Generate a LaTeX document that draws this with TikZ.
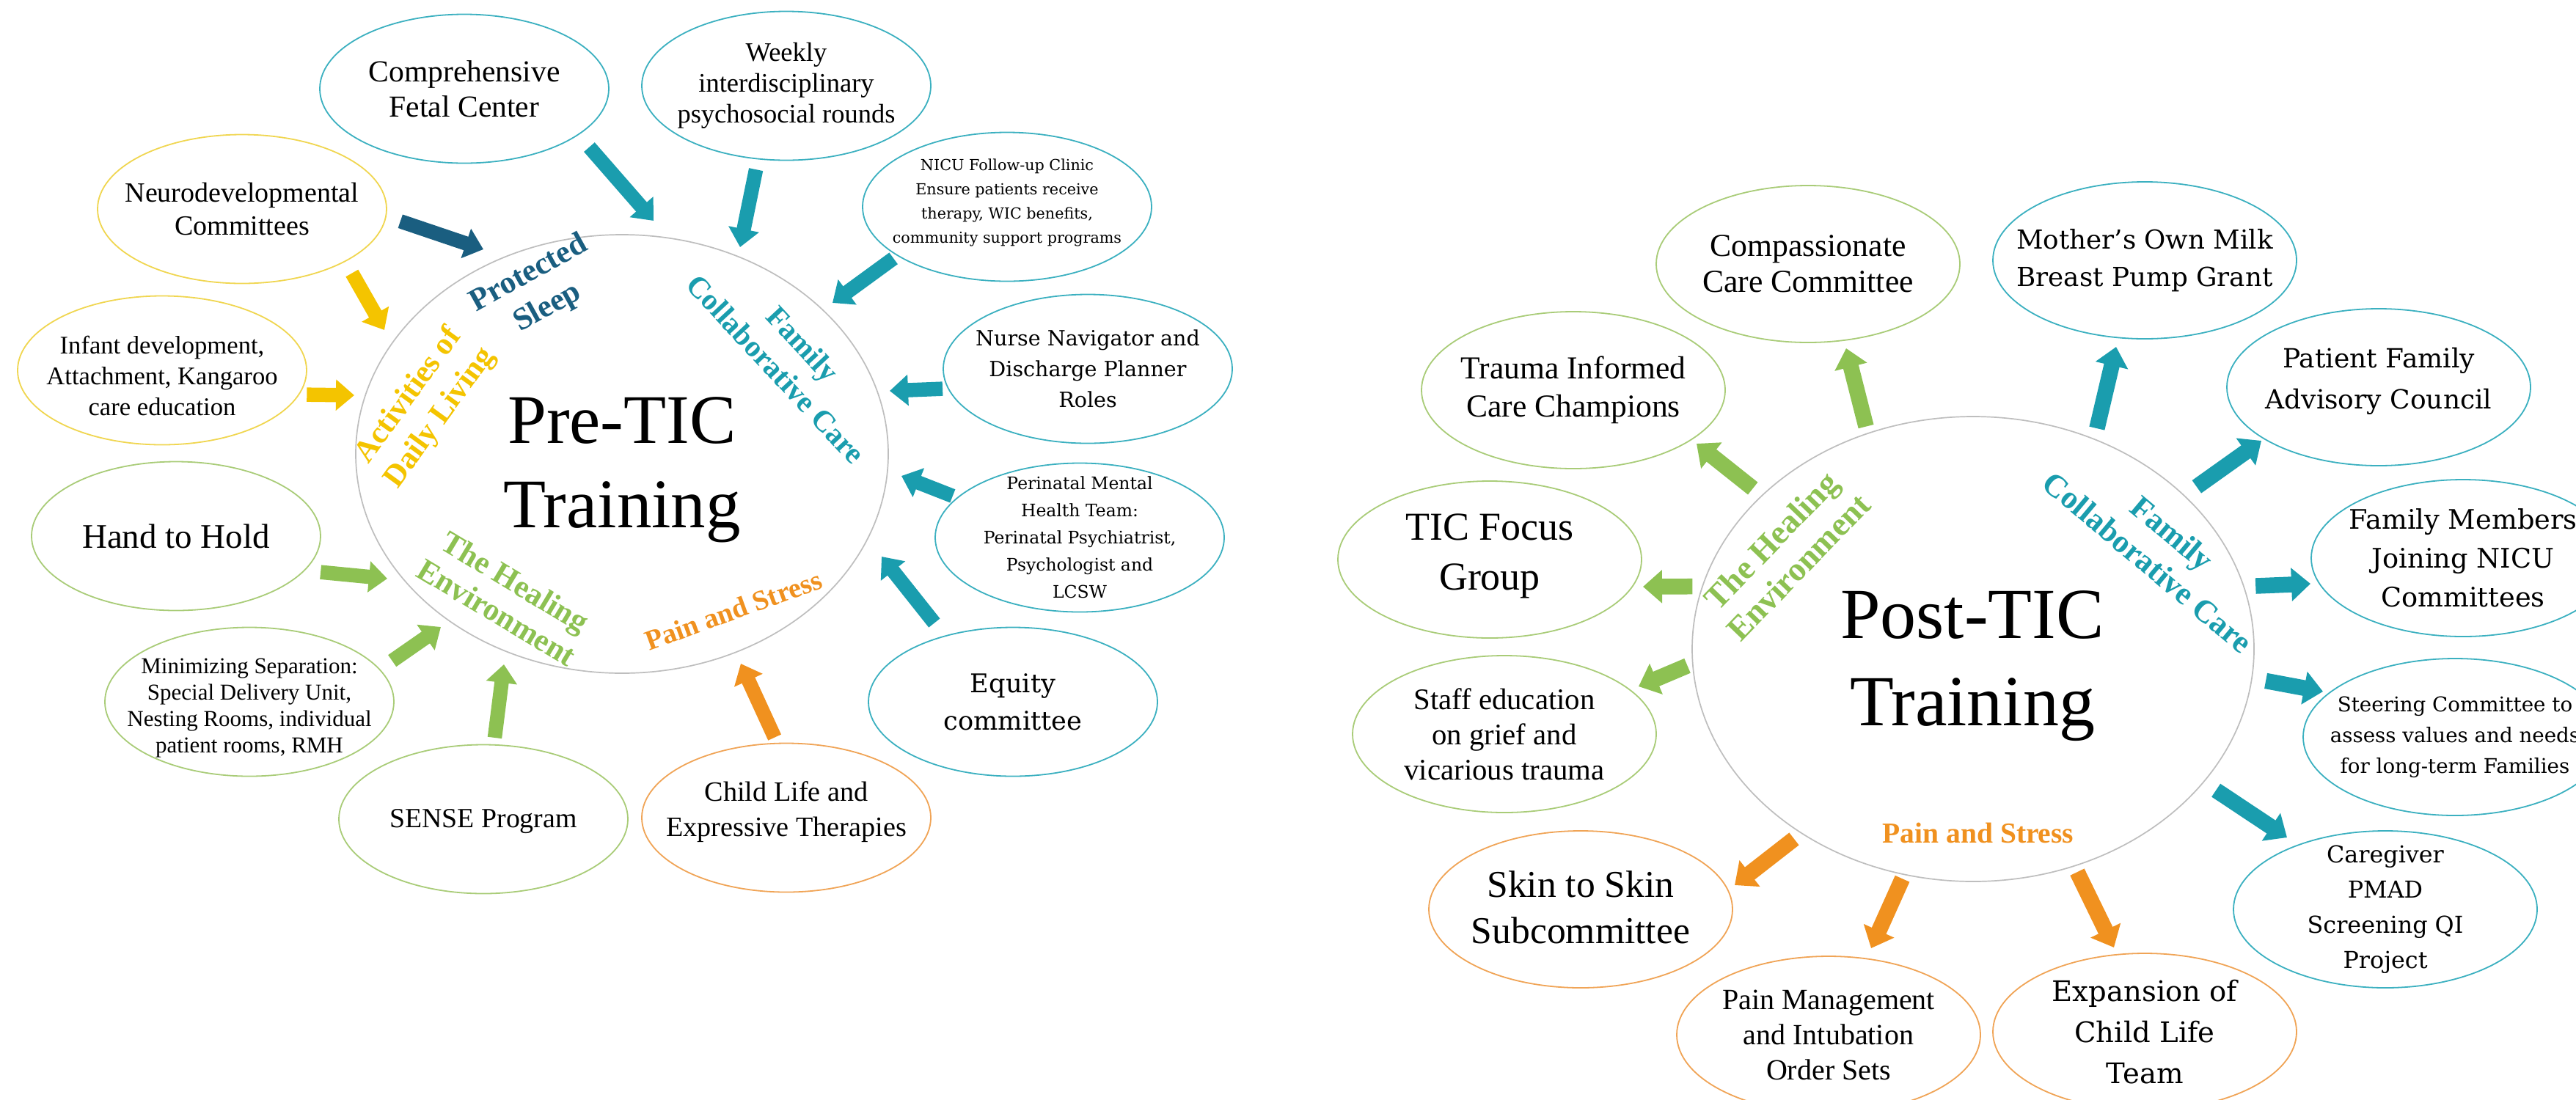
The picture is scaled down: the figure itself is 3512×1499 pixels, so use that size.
\documentclass[tikz,border=0pt]{standalone}
\usepackage{fontspec}
\setmainfont{Liberation Serif}
\newfontfamily\cent{DejaVu Serif}
\usetikzlibrary{shapes.geometric,arrows.meta}
\definecolor{cTeal}{HTML}{1A9DAE}
\definecolor{cTealL}{HTML}{3BB0C0}
\definecolor{cNavy}{HTML}{1A5E80}
\definecolor{cYel}{HTML}{F4C400}
\definecolor{cYelL}{HTML}{F0D650}
\definecolor{cGrn}{HTML}{8DC152}
\definecolor{cGrnL}{HTML}{A9CC78}
\definecolor{cOrg}{HTML}{F0911F}
\definecolor{cOrgL}{HTML}{F0A456}
\definecolor{cGray}{HTML}{BEBEBE}
\newcommand\fz[2]{\fontsize{#1mm}{#2mm}\selectfont}
\tikzset{
  ell/.style={ellipse, draw=#1, line width=0.18mm, inner sep=0pt, minimum width=39.4mm, minimum height=20.3mm},
  ellR/.style={ell=#1, minimum width=41.4mm, minimum height=21.4mm},
  circ/.style={ellipse, draw=cGray, line width=0.17mm, inner sep=0pt},
  txt/.style={align=center, inner sep=0pt, text=black},
  cat/.style={align=center, inner sep=0pt, text=#1},
  blk/.style={draw=#1, line width=1.95mm, -{Triangle[length=2.5mm,width=4.1mm]}},
  blkR/.style={draw=#1, line width=2.15mm, -{Triangle[length=2.6mm,width=4.4mm]}},
}
\begin{document}
\begin{tikzpicture}[x=0.1mm,y=-0.1mm]
\clip (0,0) rectangle (3512,1499);
\fill[white] (0,0) rectangle (3512,1499);

% ---------------- Left diagram ----------------
\node[circ, minimum width=72.6mm, minimum height=59.8mm] (preC) at (848,619) {};
\node[txt, font=\fz{9.5}{11.5}] (preT) at (848,641) {Pre-TIC\\Training};

\node[ell=cTealL] (cfc) at (633,121) {};
\node[txt, font=\fz{4.16}{4.8}] (cfcT) at (cfc) {Comprehensive\\Fetal Center};
\node[ell=cTealL] (wk) at (1072,117) {};
\node[txt, font=\fz{3.65}{4.2}] (wkT) at (wk) {Weekly\\interdisciplinary\\psychosocial rounds};
\node[ell=cTealL] (nicu) at (1373,282) {};
\node[txt, font=\cent\fz{2.07}{3.3}] (nicuT) at (1373,276) {NICU Follow-up Clinic\\Ensure patients receive\\therapy, WIC benefits,\\community support programs};
\node[ell=cTealL] (nurse) at (1483,503) {};
\node[txt, font=\cent\fz{2.86}{4.2}] (nurseT) at (nurse) {Nurse Navigator and\\Discharge Planner\\Roles};
\node[ell=cTealL] (peri) at (1472,733) {};
\node[txt, font=\cent\fz{2.35}{3.7}] (periT) at (peri) {Perinatal Mental\\Health Team:\\Perinatal Psychiatrist,\\Psychologist and\\LCSW};
\node[ell=cTealL] (eq) at (1381,957) {};
\node[txt, font=\cent\fz{3.52}{5.1}] (eqT) at (eq) {Equity\\committee};
\node[ell=cOrgL] (cl) at (1072,1115) {};
\node[txt, font=\fz{3.82}{4.8}] (clT) at (1072,1107) {Child Life and\\Expressive Therapies};
\node[ell=cGrnL] (sense) at (659,1117) {};
\node[txt, font=\fz{3.78}{4.5}] (senseT) at (659,1120) {SENSE Program};
\node[ell=cGrnL] (mini) at (340,957) {};
\node[txt, font=\fz{3.1}{3.6}] (miniT) at (340,966) {Minimizing Separation:\\Special Delivery Unit,\\Nesting Rooms, individual\\patient rooms, RMH};
\node[ell=cGrnL] (hand) at (240,731) {};
\node[txt, font=\fz{4.7}{5.5}] (handT) at (hand) {Hand to Hold};
\node[ell=cYelL] (inf) at (221,505) {};
\node[txt, font=\fz{3.46}{4.2}] (infT) at (221,512) {Infant development,\\Attachment, Kangaroo\\care education};
\node[ell=cYelL] (neuro) at (330,285) {};
\node[txt, font=\fz{3.8}{4.5}] (neuroT) at (neuro) {Neurodevelopmental\\Committees};

% category labels (left)
\node[cat=cNavy, font=\bfseries\fz{4.3}{5.3}, rotate=29] (ps) at (734,397) {Protected\\Sleep};
\node[cat=cTeal, font=\bfseries\fz{4.1}{5.0}, rotate=-47] (fcl) at (1076,486) {Family\\Collaborative Care};
\node[cat=cYel, font=\bfseries\fz{4.25}{5.2}, rotate=54] (adl) at (579,555) {Activities of\\Daily Living};
\node[cat=cGrn, font=\bfseries\fz{4.3}{4.9}, rotate=-31] (hel) at (690,814) {The Healing\\Environment};
\node[cat=cOrg, font=\bfseries\fz{3.84}{4.6}, rotate=20] (psl) at (1000,832) {Pain and Stress};

% arrows (left)
\coordinate (ha) at (891,301);
\coordinate (hb) at (1009,337);
\coordinate (hc) at (1135,413);
\coordinate (hd) at (1213,533);
\coordinate (he) at (1229,649);
\coordinate (hf) at (1202,759);
\coordinate (hg) at (1010,905);
\coordinate (hh) at (687,906);
\coordinate (hi) at (601,855);
\coordinate (hj) at (528,789);
\coordinate (hk) at (483,539);
\coordinate (hl) at (524,450);
\coordinate (hm) at (659,340);
\draw[blk=cTeal, shorten <=2.2mm] (cfc.338.2) -- (ha);
\draw[blk=cTeal, shorten <=1.4mm] (wk.249.3) -- (hb);
\draw[blk=cTeal, shorten <=0.6mm] (nicu.204.7) -- (hc);
\draw[blk=cTeal, shorten <=0.7mm] (nurse.188.7) -- (hd);
\draw[blk=cTeal, shorten <=0.6mm] (peri.162) -- (he);
\draw[blk=cTeal, shorten <=2.2mm] (eq.136.3) -- (hf);
\draw[blk=cOrg, shorten <=0.8mm] (cl.97.2) -- (hg);
\draw[blk=cGrn, shorten <=0.9mm] (sense.82.8) -- (hh);
\draw[blk=cGrn, shorten <=2.0mm] (mini.14.7) -- (hi);
\draw[blk=cGrn, shorten <=2.15mm] (hand.345.5) -- (hj);
\draw[blk=cYel, shorten <=1.0mm] (inf.350.3) -- (hk);
\draw[blk=cYel, shorten <=1.8mm] (neuro.333.9) -- (hl);
\draw[blk=cNavy, shorten <=2.0mm] (neuro.357.6) -- (hm);

% ---------------- Right diagram ----------------
\node[circ, minimum width=76.6mm, minimum height=63.4mm] (postC) at (2690,885) {};
\node[txt, font=\fz{9.8}{11.9}] (postT) at (2689,908) {Post-TIC\\Training};

\node[ellR=cGrnL] (comp) at (2465,360) {};
\node[txt, font=\fz{4.37}{4.9}] (compT) at (comp) {Compassionate\\Care Committee};
\node[ellR=cGrnL] (trau) at (2145,532) {};
\node[txt, font=\fz{4.36}{5.2}] (trauT) at (trau) {Trauma Informed\\Care Champions};
\node[ellR=cGrnL] (focus) at (2031,763) {};
\node[txt, font=\fz{5.4}{6.8}] (focusT) at (2031,758) {TIC Focus\\Group};
\node[ellR=cGrnL] (staff) at (2051,1001) {};
\node[txt, font=\fz{4.08}{4.8}] (staffT) at (staff) {Staff education\\on grief and\\vicarious trauma};
\node[ellR=cOrgL] (skin) at (2155,1240) {};
\node[txt, font=\fz{5.16}{6.3}] (skinT) at (2155,1237) {Skin to Skin\\Subcommittee};
\node[ellR=cOrgL] (pmg) at (2493,1411) {};
\node[txt, font=\fz{4.0}{4.8}] (pmgT) at (pmg) {Pain Management\\and Intubation\\Order Sets};
\node[ellR=cOrgL] (exp) at (2924,1407) {};
\node[txt, font=\cent\fz{3.86}{5.6}] (expT) at (exp) {Expansion of\\Child Life\\Team};
\node[ellR=cTealL] (milk) at (2924,355) {};
\node[txt, font=\cent\fz{3.57}{5.1}] (milkT) at (milk) {Mother’s Own Milk\\Breast Pump Grant};
\node[ellR=cTealL] (pfac) at (3243,528) {};
\node[txt, font=\cent\fz{3.6}{5.6}] (pfacT) at (3243,520) {Patient Family\\Advisory Council};
\node[ellR=cTealL] (fam) at (3358,761) {};
\node[txt, font=\cent\fz{3.67}{5.3}] (famT) at (fam) {Family Members\\Joining NICU\\Committees};
\node[ellR=cTealL] (steer) at (3347,1005) {};
\node[txt, font=\cent\fz{2.77}{4.2}] (steerT) at (steer) {Steering Committee to\\assess values and needs\\for long-term Families};
\node[ellR=cTealL] (care) at (3252,1240) {};
\node[txt, font=\cent\fz{3.18}{4.8}] (careT) at (care) {Caregiver\\PMAD\\Screening QI\\Project};

% category labels (right)
\node[cat=cGrn, font=\bfseries\fz{4.57}{5.2}, rotate=46] (her) at (2433,755) {The Healing\\Environment};
\node[cat=cTeal, font=\bfseries\fz{4.37}{5.2}, rotate=-40] (fcr) at (2945,747) {Family\\Collaborative Care};
\node[cat=cOrg, font=\bfseries\fz{3.95}{4.6}] (psr) at (2697,1136) {Pain and Stress};

% arrows (right)
\coordinate (r1) at (2517,475);
\coordinate (r2) at (2313,605);
\coordinate (r3) at (2240,800);
\coordinate (r4) at (2234,936);
\coordinate (r5) at (2365,1207);
\coordinate (r6) at (2551,1293);
\coordinate (r7) at (2882,1292);
\coordinate (r8) at (2885,473);
\coordinate (r9) at (3083,601);
\coordinate (r10) at (3150,796);
\coordinate (r11) at (3167,943);
\coordinate (r12) at (3118,1142);
\draw[blkR=cGrn, shorten <=0.9mm] (postC.116) -- (r1);
\draw[blkR=cGrn, shorten <=1.5mm] (postC.144.6) -- (r2);
\draw[blkR=cGrn, shorten <=1.3mm] (postC.167.5) -- (r3);
\draw[blkR=cGrn, shorten <=0.7mm] (postC.183.5) -- (r4);
\draw[blkR=cOrg, shorten <=1.2mm] (postC.227.3) -- (r5);
\draw[blkR=cOrg, shorten <=0.56mm] (postC.253.3) -- (r6);
\draw[blkR=cOrg, shorten <=0.85mm] (postC.295.3) -- (r7);
\draw[blkR=cTeal, shorten <=1.45mm] (postC.60.6) -- (r8);
\draw[blkR=cTeal, shorten <=2.0mm] (postC.36.9) -- (r9);
\draw[blkR=cTeal, shorten <=1.55mm] (postC.13) -- (r10);
\draw[blkR=cTeal, shorten <=1.86mm] (postC.354.6) -- (r11);
\draw[blkR=cTeal, shorten <=1.96mm] (postC.330.2) -- (r12);
\end{tikzpicture}
\end{document}
